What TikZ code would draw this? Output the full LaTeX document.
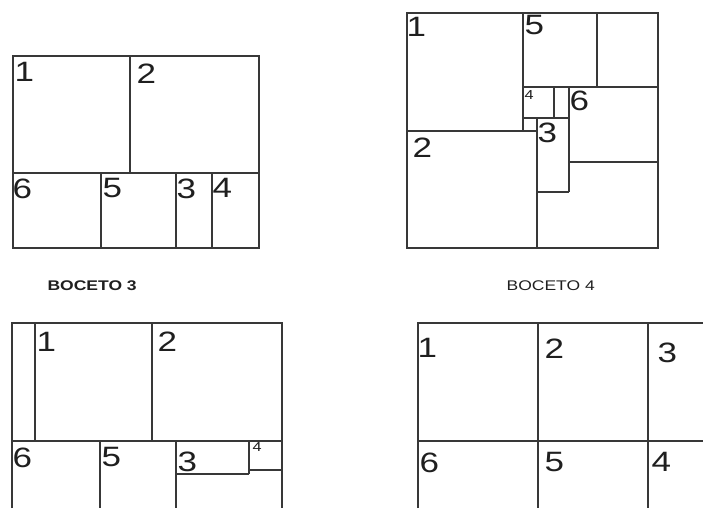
\documentclass[tikz,border=0pt]{standalone}
\usepackage{fontspec}
\setmainfont[FakeStretch=1.25]{Liberation Sans}
\begin{document}
\begin{tikzpicture}[x=1pt,y=-1pt,line width=1.2pt,
 ln/.style={draw=black!78},
 num/.style={anchor=north west,inner sep=0pt,text=black!88,font=\fontsize{28}{28}\selectfont},
 tiny/.style={num,font=\fontsize{13}{13}\selectfont},
 title/.style={anchor=north west,inner sep=0pt,text=black!88,font=\fontsize{14}{14}\selectfont}]
\useasboundingbox[fill=white] (0,0) rectangle (703,508);
\draw[ln] (13,56) rectangle (259,248);
\draw[ln] (13,173)--(259,173) (130,56)--(130,173);
\draw[ln] (101,173)--(101,248) (176,173)--(176,248) (212,173)--(212,248);
\node[num] (a1) at (14,62) {1}; \node[num] (a2) at (136,63) {2};
\node[num] (a6) at (12,178) {6}; \node[num] (a5) at (102,178) {5};
\node[num] (a3) at (176,178) {3}; \node[num] (a4) at (212,178) {4};
\draw[ln] (407,13) rectangle (658,248);
\draw[ln] (523,13)--(523,131) (407,131)--(537,131) (537,118)--(537,248);
\draw[ln] (523,87)--(658,87) (597,13)--(597,87);
\draw[ln] (523,118)--(569,118) (554,87)--(554,118);
\draw[ln] (569,87)--(569,192) (537,192)--(569,192) (569,162)--(658,162);
\node[num] (b1) at (406,17) {1}; \node[num] (b5) at (524,15) {5};
\node[tiny] (b4) at (524,90) {4}; \node[num] (b6) at (569,90) {6};
\node[num] (b3) at (537,122) {3}; \node[num] (b2) at (412,137) {2};
\node[title,font=\fontsize{14}{14}\selectfont\bfseries] (t3) at (47,280) {BOCETO 3};
\node[title] (t4) at (506,280) {BOCETO 4};
\draw[ln] (12,508)--(12,323)--(282,323)--(282,508);
\draw[ln] (12,441)--(282,441) (35,323)--(35,441) (152,323)--(152,441);
\draw[ln] (100,441)--(100,508) (176,441)--(176,508);
\draw[ln] (176,474)--(249,474) (249,441)--(249,474) (249,470)--(282,470);
\node[num] (c1) at (36,332) {1}; \node[num] (c2) at (157,331) {2};
\node[num] (c6) at (12,447) {6}; \node[num] (c5) at (101,447) {5};
\node[num] (c3) at (177,451) {3}; \node[tiny] (c4) at (252,442) {4};
\draw[ln] (418,508)--(418,323)--(703,323);
\draw[ln] (418,441)--(703,441) (538,323)--(538,508) (648,323)--(648,508);
\node[num] (d1) at (417,338) {1}; \node[num] (d2) at (544,338) {2};
\node[num] (d3) at (657,342) {3}; \node[num] (d6) at (419,452) {6};
\node[num] (d5) at (544,452) {5}; \node[num] (d4) at (651,452) {4};
\end{tikzpicture}
\end{document}
